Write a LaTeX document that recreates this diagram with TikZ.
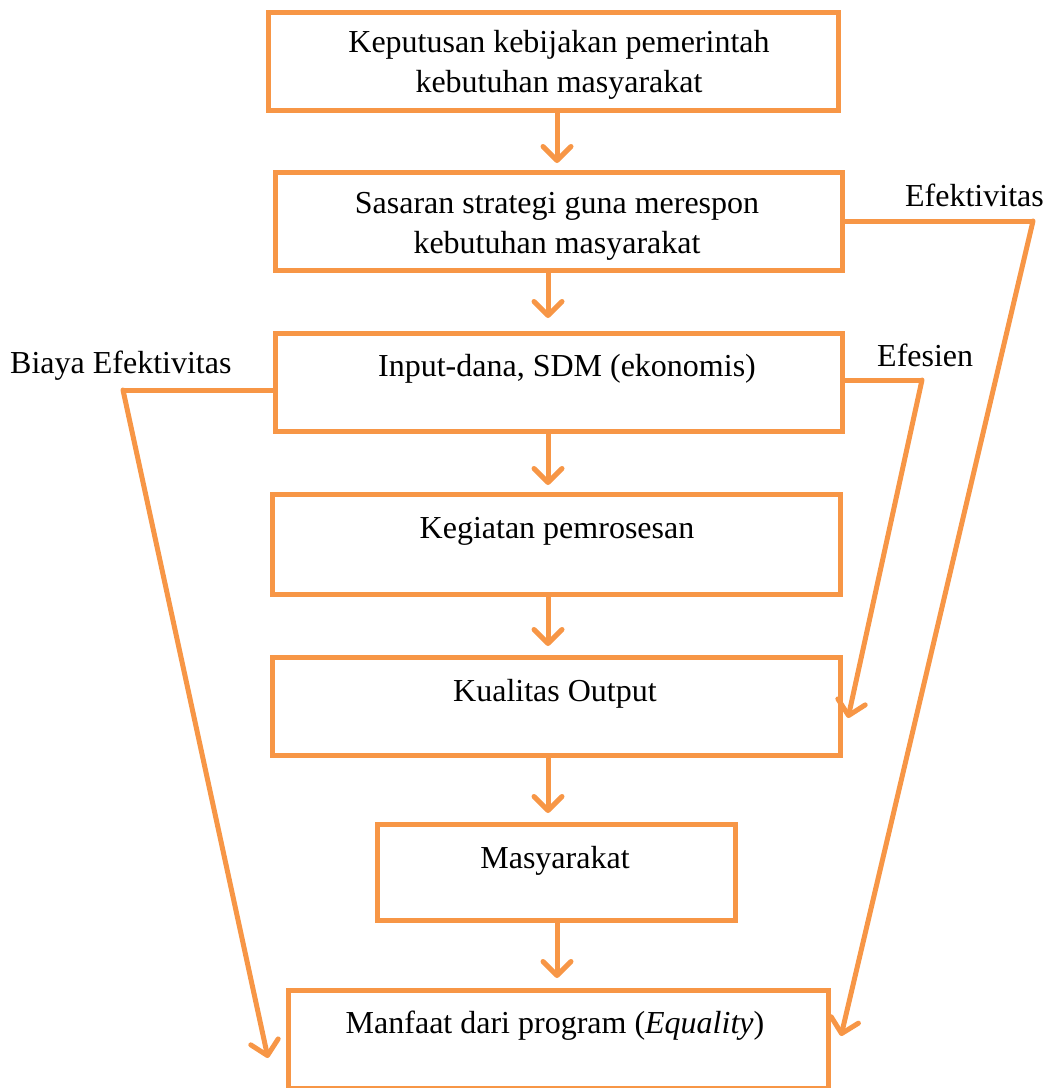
\documentclass[tikz,border=0pt]{standalone}
\usepackage{fontspec}
\setmainfont{Liberation Serif}
\usetikzlibrary{arrows.meta}
\definecolor{org}{HTML}{F79646}
\tikzset{
  box/.style={draw=org, line width=5pt, rectangle, inner sep=0pt},
  txt/.style={font=\fontsize{32}{40}\selectfont, align=center, inner sep=0pt},
  conn/.style={draw=org, line width=5pt, line cap=round, line join=round,
    -{Straight Barb[length=14pt, width=28pt, line width=5pt, round]}},
  link/.style={draw=org, line width=5pt, line join=miter}
}
\begin{document}
\begin{tikzpicture}[x=1pt,y=-1pt]
\useasboundingbox (0,0) rectangle (1048,1088);
% boxes
\node[box, minimum width=570pt, minimum height=98pt] (b1) at (553,61) {};
\node[box, minimum width=567pt, minimum height=98pt] (b2) at (558.5,221) {};
\node[box, minimum width=567pt, minimum height=98pt] (b3) at (558.5,382) {};
\node[box, minimum width=568pt, minimum height=100pt] (b4) at (556,544) {};
\node[box, minimum width=568pt, minimum height=98pt] (b5) at (556,706) {};
\node[box, minimum width=358pt, minimum height=96pt] (b6) at (556,872) {};
\node[box, minimum width=540pt, minimum height=98pt] (b7) at (558,1039) {};
% texts
\node[txt] (t1) at (559,65) {Keputusan kebijakan pemerintah\\kebutuhan masyarakat};
\node[txt] (t2) at (557,226) {Sasaran strategi guna merespon\\kebutuhan masyarakat};
\node[txt] (t3) at (567,369) {Input-dana, SDM (ekonomis)};
\node[txt] (t4) at (557,531) {Kegiatan pemrosesan};
\node[txt] (t5) at (555,694) {Kualitas Output};
\node[txt] (t6) at (555,861) {Masyarakat};
\node[txt] (t7) at (555,1026) {Manfaat dari program (\textit{Equality})};
% side labels
\node[txt, anchor=east] (l1) at (1044,195) {Efektivitas};
\node[txt, anchor=west] (l2) at (877,355) {Efesien};
\node[txt, anchor=west] (l3) at (10,366) {Biaya Efektivitas};
% vertical arrows
\draw[conn] (557,113) -- (557,163);
\draw[conn] (548,273) -- (548,318);
\draw[conn] (548,434) -- (548,485);
\draw[conn] (548,597) -- (548,646);
\draw[conn] (548,758) -- (548,813);
\draw[conn] (557,923) -- (557,978);
% side connectors
\coordinate (c1) at (1033,221);
\coordinate (e1) at (841,1036);
\coordinate (c2) at (922,380);
\coordinate (e2) at (848,718);
\coordinate (c3) at (123,390);
\coordinate (e3) at (268,1058);
\draw[link] (b2.east) -- (c1);
\draw[conn] (c1) -- (e1);
\draw[link] (b3.east |- c2) -- (c2);
\draw[conn] (c2) -- (e2);
\draw[link] (b3.west |- c3) -- (c3);
\draw[conn] (c3) -- (e3);
\end{tikzpicture}
\end{document}
